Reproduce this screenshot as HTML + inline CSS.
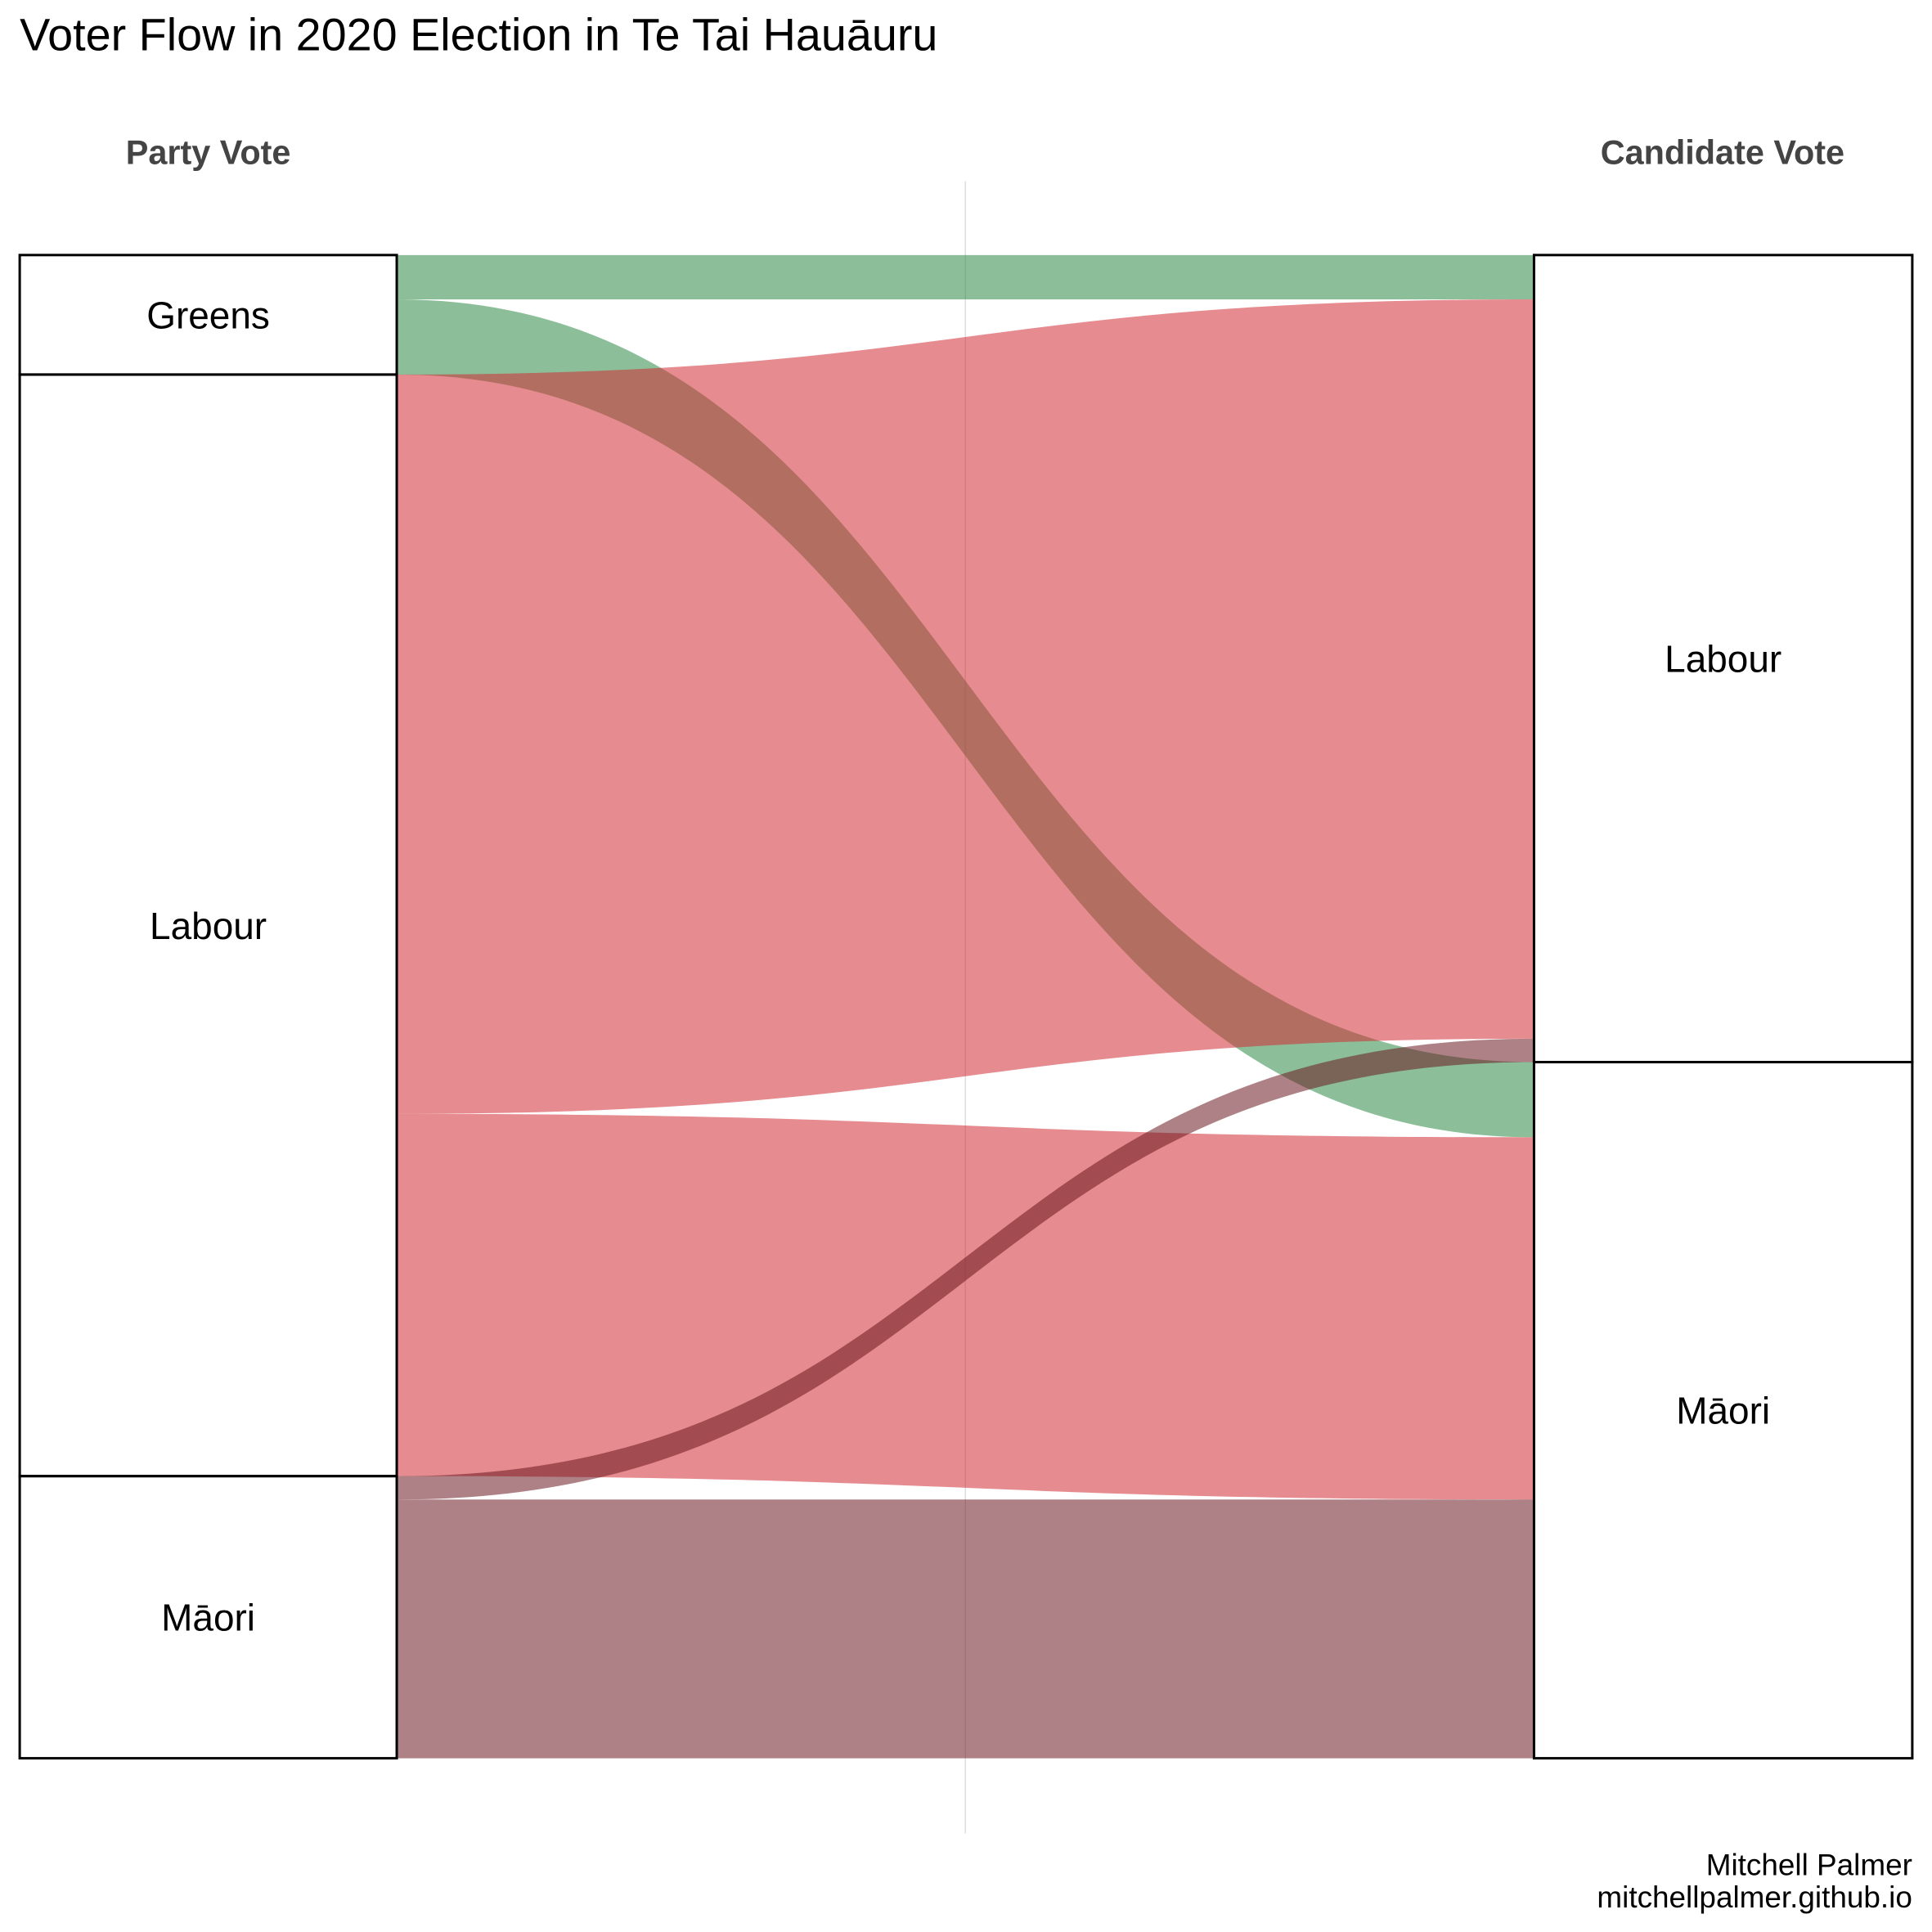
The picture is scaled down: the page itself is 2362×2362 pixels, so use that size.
<!DOCTYPE html>
<html><head><meta charset="utf-8"><style>
html,body{margin:0;padding:0;background:#fff;}
svg{display:block;font-family:"Liberation Sans",Arial,sans-serif;}
</style></head><body>
<svg id="chart" width="2362" height="2362" viewBox="0 0 1568 1568" xmlns="http://www.w3.org/2000/svg">
<rect width="1568" height="1568" fill="#fff"/>
<text x="16" y="41" font-size="37" fill="#000">Voter Flow in 2020 Election in Te Tai Hauāuru</text>
<text x="169" y="133" font-size="27.5" font-weight="bold" fill="#444" text-anchor="middle">Party Vote</text>
<text x="1398" y="133" font-size="27.5" font-weight="bold" fill="#444" text-anchor="middle">Candidate Vote</text>
<line x1="783.5" y1="147" x2="783.5" y2="1488" stroke="#ddd" stroke-width="1"/>
<g id="flows"></g>
<g id="boxes"></g>
<text x="1552" y="1522" font-size="24.5" text-anchor="end" fill="#000">Mitchell Palmer</text>
<text x="1552" y="1548" font-size="24.5" text-anchor="end" fill="#000">mitchellpalmer.github.io</text>
</svg>
<script>
const partyCategories = ["Greens","Labour","Māori"];
const candidateCategories = ["Labour","Māori"];
const flowFrom = ["Greens","Greens","Labour","Labour","Māori","Māori"];
const flowTo = ["Labour","Māori","Labour","Māori","Labour","Māori"];
const flowValues = [36, 61, 600, 294, 19, 210];
const flowColors = {"Greens":"#2e8b46","Labour":"#d22b33","Māori":"#6a1a20"};

const NS="http://www.w3.org/2000/svg";
const top0=207, bot0=1427, xL0=16, xL1=322, xR0=1245, xR1=1552;
const total=flowValues.reduce((a,b)=>a+b,0);
const yScale=v=>v*(bot0-top0)/total;

function stackNodes(cats, key){
  const pos={}; let y=top0;
  cats.forEach(c=>{
    let s=0; flowValues.forEach((v,i)=>{ if(key[i]===c) s+=v; });
    pos[c]={y0:y,y1:y+yScale(s),cur:y}; y+=yScale(s);
  });
  return pos;
}
const left=stackNodes(partyCategories, flowFrom);
const right=stackNodes(candidateCategories, flowTo);

const leftOrder=flowValues.map((v,i)=>i).sort((a,b)=>partyCategories.indexOf(flowFrom[a])-partyCategories.indexOf(flowFrom[b])||candidateCategories.indexOf(flowTo[a])-candidateCategories.indexOf(flowTo[b]));
const ly={}, ry={};
leftOrder.forEach(i=>{ const n=left[flowFrom[i]]; ly[i]=n.cur; n.cur+=yScale(flowValues[i]); });
const rightOrder=flowValues.map((v,i)=>i).sort((a,b)=>candidateCategories.indexOf(flowTo[a])-candidateCategories.indexOf(flowTo[b])||partyCategories.indexOf(flowFrom[a])-partyCategories.indexOf(flowFrom[b]));
rightOrder.forEach(i=>{ const n=right[flowTo[i]]; ry[i]=n.cur; n.cur+=yScale(flowValues[i]); });

const fg=document.getElementById('flows');
const xm=(xL1+xR0)/2;
flowValues.forEach((v,i)=>{
  const h=yScale(v), a=ly[i], b=ry[i];
  const d=`M${xL1},${a} C${xm},${a} ${xm},${b} ${xR0},${b} L${xR0},${b+h} C${xm},${b+h} ${xm},${a+h} ${xL1},${a+h} Z`;
  const p=document.createElementNS(NS,'path');
  p.setAttribute('d',d);
  p.setAttribute('fill',flowColors[flowFrom[i]]);
  p.setAttribute('fill-opacity','0.55');
  
  
  fg.appendChild(p);
});

const bg=document.getElementById('boxes');
function drawNodes(pos,x0,x1,side){
  Object.keys(pos).forEach(c=>{
    const n=pos[c];
    const r=document.createElementNS(NS,'rect');
    r.setAttribute('x',x0); r.setAttribute('y',n.y0);
    r.setAttribute('width',x1-x0); r.setAttribute('height',n.y1-n.y0);
    r.setAttribute('fill','none'); r.setAttribute('stroke','#000'); r.setAttribute('stroke-width','2');
    
    
    bg.appendChild(r);
    const t=document.createElementNS(NS,'text');
    t.setAttribute('x',(x0+x1)/2); t.setAttribute('y',(n.y0+n.y1)/2+11);
    t.setAttribute('font-size','30.5'); t.setAttribute('text-anchor','middle');
    t.textContent=c;
    
    
    bg.appendChild(t);
  });
}
drawNodes(left,xL0,xL1,'party');
drawNodes(right,xR0,xR1,'candidate');
</script>
</body></html>
